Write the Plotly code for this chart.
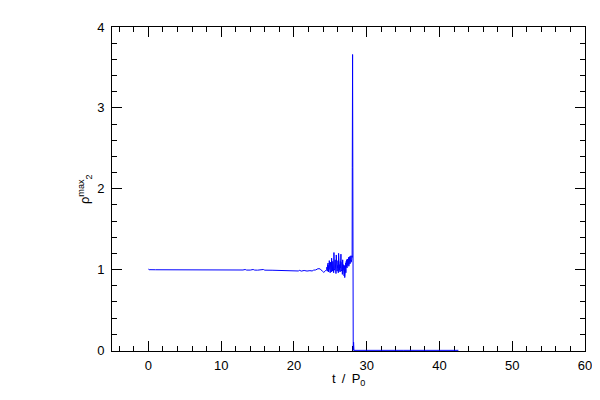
import plotly.graph_objects as go

# time / P0
t_steady = [0.0, 0.1, 1.0, 2.0, 3.0, 4.0, 5.0, 6.0, 7.0, 8.0, 8.5, 8.7, 8.9, 9.1, 9.3, 9.5,
            9.7, 9.9, 10.1, 10.3, 10.5, 10.7, 10.9, 11.1, 11.3, 11.5, 11.7, 11.9, 12.1, 12.4,
            13.0, 13.3, 13.5, 14.0, 14.4, 14.6, 15.0, 15.8, 16.0, 17.0, 18.0, 19.0, 19.1,
            19.3, 20.0, 20.6, 20.8, 21.0, 21.4, 21.8, 22.2, 22.5, 22.7, 23.0, 23.3, 23.6,
            23.9, 24.1, 24.3]
rho_steady = [1.005, 0.998, 0.997, 0.997, 0.996, 0.996, 0.996, 0.996, 0.995, 0.995, 0.995,
              0.990, 0.996, 0.990, 0.996, 0.990, 0.996, 0.990, 0.996, 0.990, 0.996, 0.990,
              0.996, 0.990, 0.996, 0.990, 0.996, 0.990, 0.996, 0.994, 0.994, 1.000, 0.993,
              0.993, 1.000, 0.993, 0.992, 1.000, 0.992, 0.991, 0.990, 0.990, 0.982, 0.990,
              0.989, 0.982, 0.990, 0.980, 0.988, 0.981, 0.986, 0.982, 0.992, 0.995, 1.010,
              1.008, 0.980, 0.965, 0.980]

t_noisy = [24.50, 24.54, 24.58, 24.62, 24.66, 24.70, 24.74, 24.78, 24.82, 24.86,
           24.90, 24.94, 24.98, 25.02, 25.06, 25.10, 25.14, 25.18, 25.22, 25.26,
           25.30, 25.34, 25.38, 25.42, 25.46, 25.50, 25.54, 25.58, 25.62, 25.66,
           25.70, 25.74, 25.78, 25.82, 25.86, 25.90, 25.94, 25.98, 26.02, 26.06,
           26.10, 26.14, 26.18, 26.22, 26.26, 26.30, 26.34, 26.38, 26.42, 26.46,
           26.50, 26.54, 26.58, 26.62, 26.66, 26.70, 26.74, 26.78, 26.82, 26.86,
           26.90, 26.94, 26.98, 27.02, 27.06, 27.10, 27.14, 27.18, 27.22, 27.26,
           27.30, 27.34, 27.38, 27.42, 27.46, 27.50, 27.54, 27.58, 27.62, 27.66,
           27.70, 27.74, 27.78, 27.82, 27.86, 27.90, 27.94, 27.98]
rho_noisy = [1.00, 1.03, 0.98, 1.06, 0.99, 1.08, 0.97, 1.05, 1.00, 1.11,
             0.99, 1.04, 0.96, 1.09, 1.01, 1.06, 0.97, 1.14, 1.00, 1.07,
             0.98, 1.10, 1.02, 1.05, 0.96, 1.21, 0.99, 1.08, 1.01, 1.12,
             0.97, 1.06, 0.95, 1.18, 1.00, 1.09, 0.98, 1.05, 1.02, 1.11,
             0.96, 1.20, 1.01, 1.08, 0.99, 1.06, 0.97, 1.10, 1.02, 1.19,
             0.98, 1.07, 1.00, 1.09, 0.94, 1.12, 0.99, 1.06, 0.97, 1.04,
             0.92, 1.05, 0.90, 1.03, 0.98, 1.08, 0.96, 1.10, 1.03, 1.12,
             1.02, 1.13, 1.05, 1.10, 1.06, 1.15, 1.04, 1.14, 1.08, 1.16,
             1.07, 1.15, 1.10, 1.17, 1.09, 1.16, 1.12, 1.17]

t_collapse = [28.00, 28.02, 28.04, 28.06, 28.08, 28.15, 28.20, 28.25, 35.0, 42.6]
rho_collapse = [1.15, 2.26, 0.75, 3.66, 0.0, 0.0, 0.10, 0.0, 0.0, 0.0]

t = t_steady + t_noisy + t_collapse
rho = rho_steady + rho_noisy + rho_collapse

x_ticks = [0, 10, 20, 30, 40, 50, 60]
y_ticks = [0, 1, 2, 3, 4]

fig = go.Figure()
fig.add_trace(go.Scatter(x=t, y=rho, mode="lines",
                         line=dict(color="#0000ff", width=1), showlegend=False))

font = dict(family="Liberation Sans, Arial, sans-serif", size=13, color="black")

axis_common = dict(
    showgrid=False, zeroline=False, showline=True, linecolor="black", linewidth=1,
    mirror="ticks", ticks="inside", ticklen=10, tickwidth=1, tickcolor="black",
    tickfont=font, layer="below traces",
)

fig.update_xaxes(range=[-5, 60], tickvals=x_ticks, ticktext=[str(v) for v in x_ticks],
                 minor=dict(ticks="inside", ticklen=5, dtick=2, tick0=0, tickcolor="black"),
                 ticklabelstandoff=2, **axis_common)
fig.update_yaxes(range=[-0.008, 4.0], tickvals=y_ticks, ticktext=[str(v) for v in y_ticks],
                 minor=dict(ticks="inside", ticklen=5, dtick=0.2, tick0=0, tickcolor="black"),
                 ticklabelstandoff=4, **axis_common)

fig.update_layout(
    width=600, height=400,
    margin=dict(l=104, r=23, t=15, b=57),
    paper_bgcolor="white", plot_bgcolor="white",
    font=font,
    annotations=[
        dict(text="t\u2009 /\u2009 P<sub>0</sub>", x=0.5, y=-0.088, xref="paper", yref="paper",
             xanchor="center", yanchor="middle", showarrow=False, font=font),
        dict(text="ρ<sup>max</sup><sub>2</sub>", x=-0.057, y=0.5, xref="paper", yref="paper",
             xanchor="center", yanchor="middle", textangle=-90, showarrow=False, font=font),
    ],
)

fig.write_html("out.html")
